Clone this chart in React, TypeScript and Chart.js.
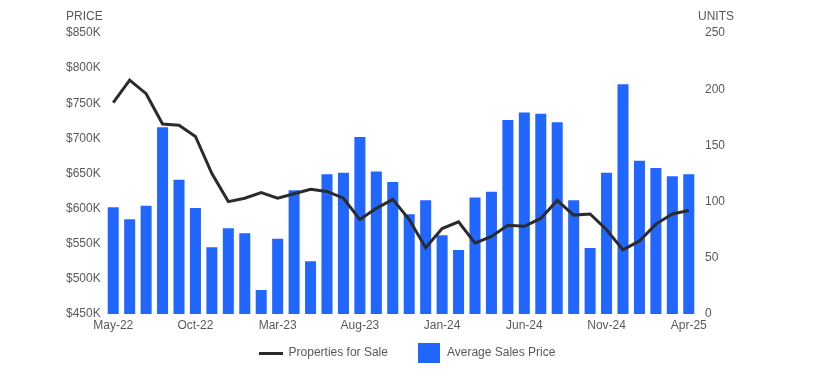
import React, { useEffect, useRef } from "react";
import { Chart, registerables } from "chart.js";

Chart.register(...registerables);

const months = [
  "May-22", "Jun-22", "Jul-22", "Aug-22", "Sep-22", "Oct-22", "Nov-22", "Dec-22",
  "Jan-23", "Feb-23", "Mar-23", "Apr-23", "May-23", "Jun-23", "Jul-23", "Aug-23",
  "Sep-23", "Oct-23", "Nov-23", "Dec-23", "Jan-24", "Feb-24", "Mar-24", "Apr-24",
  "May-24", "Jun-24", "Jul-24", "Aug-24", "Sep-24", "Oct-24", "Nov-24", "Dec-24",
  "Jan-25", "Feb-25", "Mar-25", "Apr-25",
];

const averageSalesPrice = [
  602000, 585000, 604000, 716000, 641000, 601000, 545000, 572000,
  565000, 484000, 557000, 626000, 525000, 649000, 651000, 702000,
  653000, 638000, 592000, 612000, 562000, 541000, 616000, 624000,
  726000, 737000, 735000, 723000, 612000, 544000, 651000, 777000,
  668000, 658000, 646000, 649000,
];

const propertiesForSale = [
  188, 208, 196, 169, 168, 158, 125, 100,
  103, 108, 103, 107, 111, 109, 103, 84,
  94, 102, 84, 59, 76, 82, 63, 69,
  79, 78, 85, 101, 88, 89, 75, 57,
  65, 80, 89, 92,
];

const priceTicks = { min: 450000, max: 850000, step: 50000 };
const unitTicks = { min: 0, max: 250, step: 50 };

const TEXT = "#595959";
const BLUE = "#2166FF";
const DARK = "#2b2b2b";
const FONT = "'Liberation Sans', Arial, sans-serif";

export default function App() {
  const ref = useRef<HTMLCanvasElement | null>(null);

  useEffect(() => {
    document.body.style.margin = "0";
    const canvas = ref.current;
    if (!canvas) return;

    const lineImg = document.createElement("canvas");
    lineImg.width = 24;
    lineImg.height = 3;
    const lctx = lineImg.getContext("2d")!;
    lctx.fillStyle = DARK;
    lctx.fillRect(0, 0, 24, 3);

    const boxImg = document.createElement("canvas");
    boxImg.width = 22;
    boxImg.height = 20;
    const bctx = boxImg.getContext("2d")!;
    bctx.fillStyle = BLUE;
    bctx.fillRect(0, 0, 22, 20);

    const axisTitles = {
      id: "axisTitles",
      afterDraw(chart: any) {
        const ctx = chart.ctx;
        ctx.save();
        ctx.font = `12px ${FONT}`;
        ctx.fillStyle = TEXT;
        ctx.textBaseline = "middle";
        ctx.textAlign = "left";
        ctx.fillText("PRICE", 66, 17);
        ctx.fillText("UNITS", chart.chartArea.right + 1, 17);
        ctx.restore();
      },
    };

    const chart = new Chart(canvas, {
      type: "bar",
      data: {
        labels: months,
        datasets: [
          {
            type: "line",
            label: "Properties for Sale",
            data: propertiesForSale,
            yAxisID: "yUnits",
            borderColor: DARK,
            backgroundColor: DARK,
            borderWidth: 3,
            pointRadius: 0,
            tension: 0,
            order: 0,
          } as any,
          {
            type: "bar",
            label: "Average Sales Price",
            data: averageSalesPrice,
            yAxisID: "yPrice",
            backgroundColor: BLUE,
            borderWidth: 0,
            categoryPercentage: 1,
            barPercentage: 0.67,
            order: 1,
          },
        ],
      },
      options: {
        animation: false,
        responsive: true,
        maintainAspectRatio: false,
        layout: { padding: { top: 33, left: 66, right: 66, bottom: 9 } },
        plugins: {
          tooltip: { enabled: false },
          legend: {
            position: "bottom",
            labels: {
              usePointStyle: true,
              pointStyleWidth: 24,
              padding: 29,
              color: TEXT,
              font: { size: 12, family: FONT },
              generateLabels: (c: any) => {
                const items = Chart.defaults.plugins.legend.labels.generateLabels(c);
                return items.map((it: any) => ({
                  ...it,
                  pointStyle: it.text === "Properties for Sale" ? lineImg : boxImg,
                }));
              },
            },
          },
        },
        scales: {
          x: {
            offset: true,
            grid: { display: false, drawTicks: false },
            border: { display: false },
            afterFit: (s: any) => {
              s.height = 4;
            },
            ticks: {
              autoSkip: false,
              maxRotation: 0,
              minRotation: 0,
              mirror: true,
              padding: -19,
              color: TEXT,
              font: { size: 12, family: FONT },
              callback: (_v: any, i: number) => (i % 5 === 0 ? months[i] : ""),
            },
          },
          yPrice: {
            position: "left",
            min: priceTicks.min,
            max: priceTicks.max,
            grid: { display: false, drawTicks: false },
            border: { display: false },
            afterFit: (s: any) => {
              s.width = 39;
            },
            ticks: {
              stepSize: priceTicks.step,
              crossAlign: "far",
              padding: 4,
              color: TEXT,
              font: { size: 12, family: FONT },
              callback: (v: any) => "$" + Math.round(Number(v) / 1000) + "K",
            },
          },
          yUnits: {
            position: "right",
            min: unitTicks.min,
            max: unitTicks.max,
            grid: { display: false, drawTicks: false },
            border: { display: false },
            afterFit: (s: any) => {
              s.width = 51;
            },
            ticks: {
              stepSize: unitTicks.step,
              padding: 8,
              color: TEXT,
              font: { size: 12, family: FONT },
            },
          },
        },
      },
      plugins: [axisTitles],
    });

    return () => chart.destroy();
  }, []);

  return (
    <div style={{ width: 814, height: 378, position: "relative" }}>
      <canvas ref={ref} />
    </div>
  );
}
